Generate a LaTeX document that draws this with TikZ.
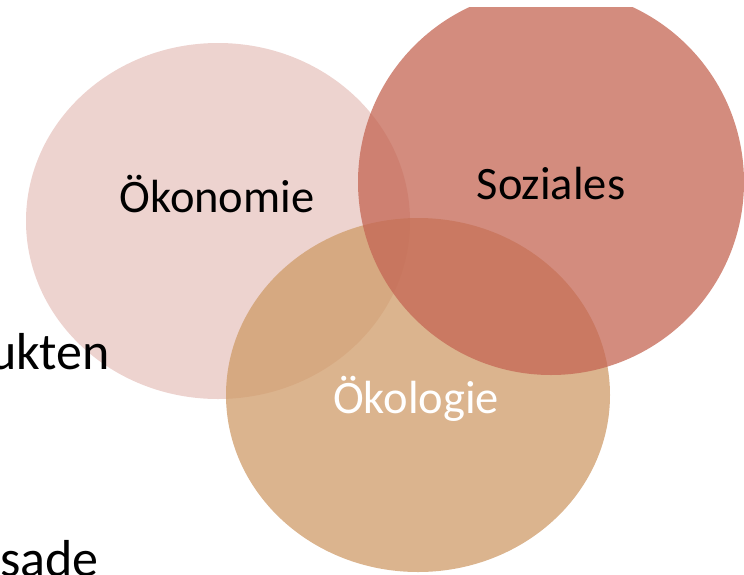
\documentclass[tikz,border=0pt]{standalone}
\usepackage{fontspec}
\setmainfont{Carlito}
\definecolor{oekonomie}{RGB}{231,196,191}
\definecolor{oekologie}{RGB}{207,155,104}
\definecolor{soziales}{RGB}{196,102,83}
\begin{document}
\begin{tikzpicture}[x=1pt,y=-1pt, line join=round,
		kreis/.style={fill opacity=0.75},
		titel/.style={font=\fontsize{46.5}{50}\selectfont, anchor=base, inner sep=0pt},
		rest/.style={font=\fontsize{52}{56}\selectfont, anchor=base east, inner sep=0pt}]
			\def\breite{744} \def\hoehe{574}
			\useasboundingbox (0,0) rectangle (\breite,\hoehe);
			\begin{scope}
				\clip (0,7) rectangle (\breite,\hoehe);
				\fill[kreis,oekonomie] (218,221) ellipse [x radius=192, y radius=178];
				\fill[kreis,oekologie] (418,395) ellipse [x radius=192, y radius=177];
				\fill[kreis,soziales] (551,182) circle [radius=193];
			\end{scope}
			\node[titel] (oekonomie) at (217,212) {Ökonomie};
			\node[titel] (soziales) at (551,199) {Soziales};
			\node[titel,white] (oekologie) at (416,413) {Ökologie};
			%% Reste vom Folientext links
			\node[rest] (produkten) at (110,369) {ukten};
			\node[rest] (grundsatz) at (99,576) {sade};
		\end{tikzpicture}
\end{document}
